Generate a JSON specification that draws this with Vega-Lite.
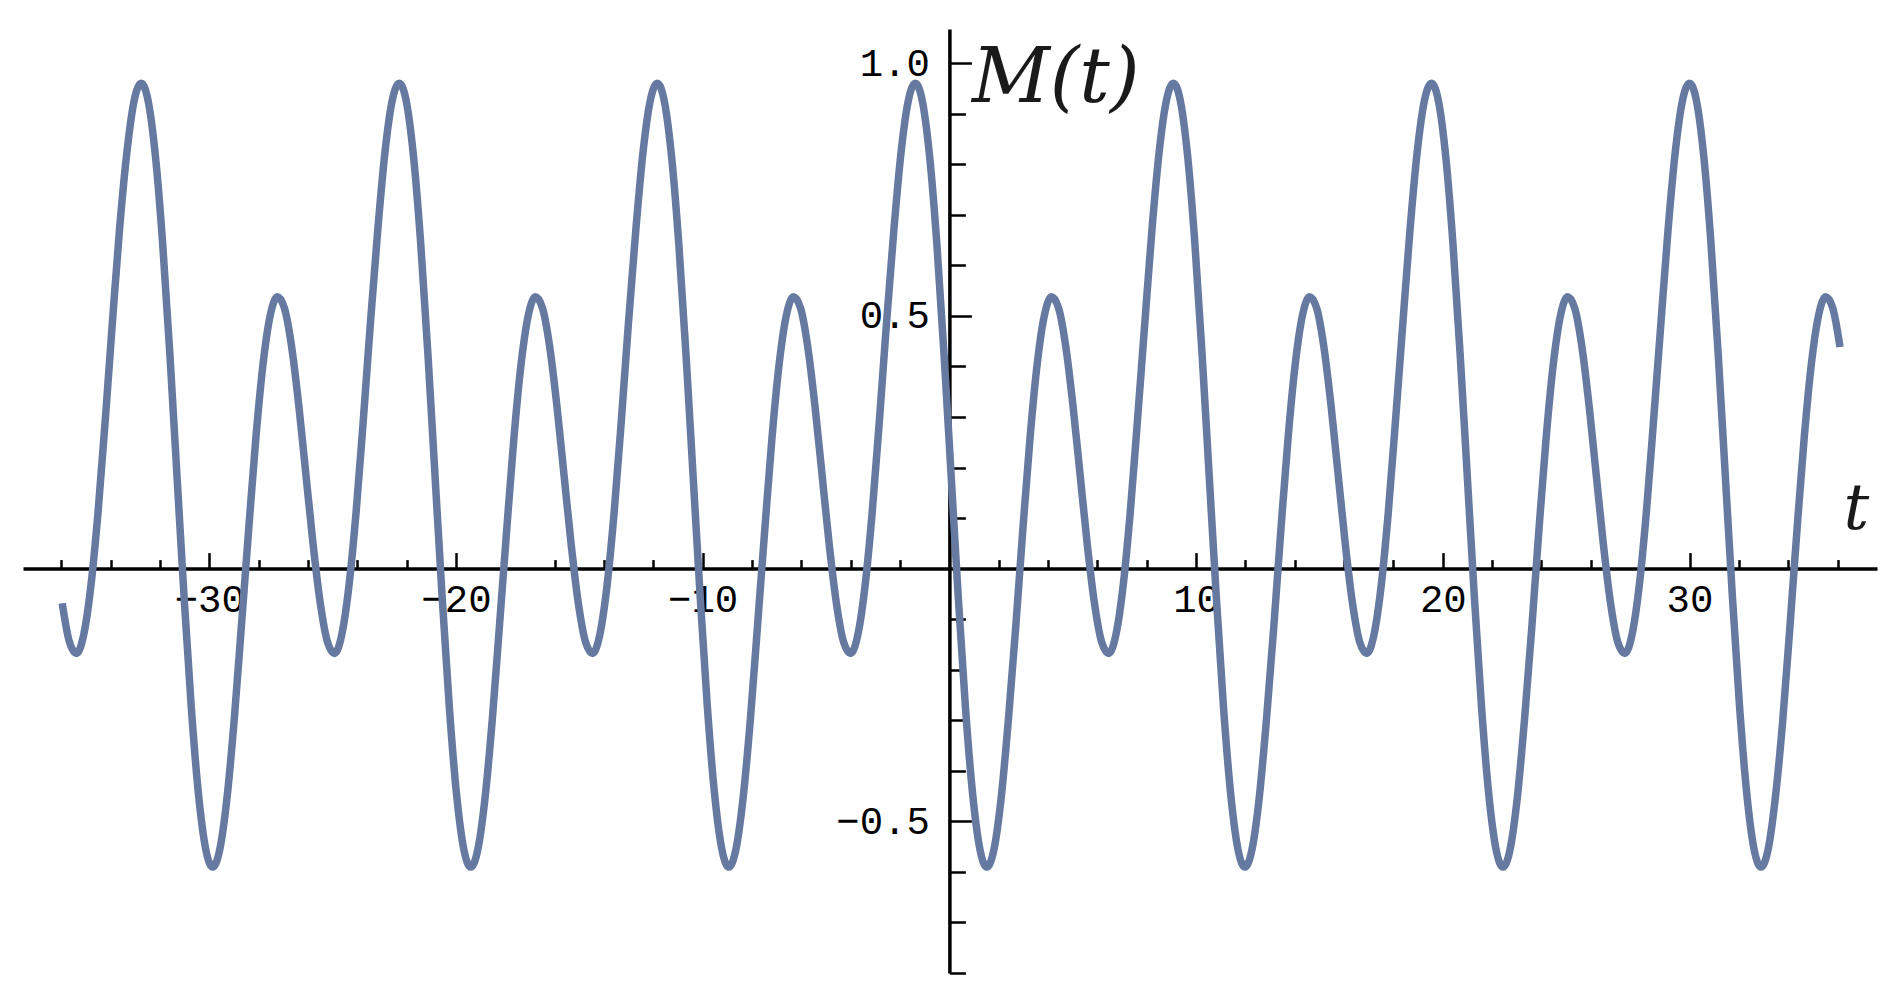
{
  "$schema": "https://vega.github.io/schema/vega-lite/v6.json",
  "width": 1854,
  "height": 944,
  "autosize": {"type": "none"},
  "padding": {"left": 23, "top": 29, "right": 22, "bottom": 24},
  "background": "white",
  "config": {"view": {"stroke": null}},
  "data": {"values": [
    {"t": -35.96, "M": -0.0685}, {"t": -35.67, "M": -0.1448}, {"t": -35.38, "M": -0.1677}, {"t": -35.09, "M": -0.1308},
    {"t": -34.80, "M": -0.0350}, {"t": -34.51, "M": 0.1108}, {"t": -34.22, "M": 0.2910}, {"t": -33.93, "M": 0.485},
    {"t": -33.64, "M": 0.6699}, {"t": -33.34, "M": 0.8230}, {"t": -33.05, "M": 0.9246}, {"t": -32.76, "M": 0.9604},
    {"t": -32.47, "M": 0.9234}, {"t": -32.18, "M": 0.8148}, {"t": -31.89, "M": 0.6437}, {"t": -31.60, "M": 0.4266},
    {"t": -31.31, "M": 0.185}, {"t": -31.02, "M": -0.0566}, {"t": -30.73, "M": -0.2737}, {"t": -30.44, "M": -0.4448},
    {"t": -30.15, "M": -0.5534}, {"t": -29.86, "M": -0.5904}, {"t": -29.57, "M": -0.5546}, {"t": -29.28, "M": -0.4530},
    {"t": -28.99, "M": -0.2999}, {"t": -28.70, "M": -0.115}, {"t": -28.40, "M": 0.0790}, {"t": -28.11, "M": 0.2592},
    {"t": -27.82, "M": 0.4050}, {"t": -27.53, "M": 0.5008}, {"t": -27.24, "M": 0.5377}, {"t": -26.95, "M": 0.5148},
    {"t": -26.66, "M": 0.4385}, {"t": -26.37, "M": 0.3224}, {"t": -26.08, "M": 0.185}, {"t": -25.79, "M": 0.0476},
    {"t": -25.50, "M": -0.0685}, {"t": -25.21, "M": -0.1448}, {"t": -24.92, "M": -0.1677}, {"t": -24.63, "M": -0.1308},
    {"t": -24.34, "M": -0.0350}, {"t": -24.05, "M": 0.1108}, {"t": -23.76, "M": 0.2910}, {"t": -23.47, "M": 0.485},
    {"t": -23.17, "M": 0.6699}, {"t": -22.88, "M": 0.8230}, {"t": -22.59, "M": 0.9246}, {"t": -22.30, "M": 0.9604},
    {"t": -22.01, "M": 0.9234}, {"t": -21.72, "M": 0.8148}, {"t": -21.43, "M": 0.6437}, {"t": -21.14, "M": 0.4266},
    {"t": -20.85, "M": 0.185}, {"t": -20.56, "M": -0.0566}, {"t": -20.27, "M": -0.2737}, {"t": -19.98, "M": -0.4448},
    {"t": -19.69, "M": -0.5534}, {"t": -19.40, "M": -0.5904}, {"t": -19.11, "M": -0.5546}, {"t": -18.82, "M": -0.4530},
    {"t": -18.53, "M": -0.2999}, {"t": -18.24, "M": -0.115}, {"t": -17.94, "M": 0.0790}, {"t": -17.65, "M": 0.2592},
    {"t": -17.36, "M": 0.4050}, {"t": -17.07, "M": 0.5008}, {"t": -16.78, "M": 0.5377}, {"t": -16.49, "M": 0.5148},
    {"t": -16.20, "M": 0.4385}, {"t": -15.91, "M": 0.3224}, {"t": -15.62, "M": 0.185}, {"t": -15.33, "M": 0.0476},
    {"t": -15.04, "M": -0.0685}, {"t": -14.75, "M": -0.1448}, {"t": -14.46, "M": -0.1677}, {"t": -14.17, "M": -0.1308},
    {"t": -13.88, "M": -0.0350}, {"t": -13.59, "M": 0.1108}, {"t": -13.30, "M": 0.2910}, {"t": -13.01, "M": 0.485},
    {"t": -12.71, "M": 0.6699}, {"t": -12.42, "M": 0.8230}, {"t": -12.13, "M": 0.9246}, {"t": -11.84, "M": 0.9604},
    {"t": -11.55, "M": 0.9234}, {"t": -11.26, "M": 0.8148}, {"t": -10.97, "M": 0.6437}, {"t": -10.68, "M": 0.4266},
    {"t": -10.39, "M": 0.185}, {"t": -10.10, "M": -0.0566}, {"t": -9.81, "M": -0.2737}, {"t": -9.52, "M": -0.4448},
    {"t": -9.23, "M": -0.5534}, {"t": -8.94, "M": -0.5904}, {"t": -8.65, "M": -0.5546}, {"t": -8.36, "M": -0.4530},
    {"t": -8.07, "M": -0.2999}, {"t": -7.78, "M": -0.115}, {"t": -7.48, "M": 0.0790}, {"t": -7.19, "M": 0.2592},
    {"t": -6.90, "M": 0.4050}, {"t": -6.61, "M": 0.5008}, {"t": -6.32, "M": 0.5377}, {"t": -6.03, "M": 0.5148},
    {"t": -5.74, "M": 0.4385}, {"t": -5.45, "M": 0.3224}, {"t": -5.16, "M": 0.185}, {"t": -4.87, "M": 0.0476},
    {"t": -4.58, "M": -0.0685}, {"t": -4.29, "M": -0.1448}, {"t": -4.00, "M": -0.1677}, {"t": -3.71, "M": -0.1308},
    {"t": -3.42, "M": -0.0350}, {"t": -3.13, "M": 0.1108}, {"t": -2.84, "M": 0.2910}, {"t": -2.55, "M": 0.485},
    {"t": -2.25, "M": 0.6699}, {"t": -1.96, "M": 0.8230}, {"t": -1.67, "M": 0.9246}, {"t": -1.38, "M": 0.9604},
    {"t": -1.09, "M": 0.9234}, {"t": -0.80, "M": 0.8148}, {"t": -0.51, "M": 0.6437}, {"t": -0.22, "M": 0.4266},
    {"t": 0.07, "M": 0.185}, {"t": 0.36, "M": -0.0566}, {"t": 0.65, "M": -0.2737}, {"t": 0.94, "M": -0.4448},
    {"t": 1.23, "M": -0.5534}, {"t": 1.52, "M": -0.5904}, {"t": 1.81, "M": -0.5546}, {"t": 2.10, "M": -0.4530},
    {"t": 2.39, "M": -0.2999}, {"t": 2.69, "M": -0.115}, {"t": 2.98, "M": 0.0790}, {"t": 3.27, "M": 0.2592},
    {"t": 3.56, "M": 0.4050}, {"t": 3.85, "M": 0.5008}, {"t": 4.14, "M": 0.5377}, {"t": 4.43, "M": 0.5148},
    {"t": 4.72, "M": 0.4385}, {"t": 5.01, "M": 0.3224}, {"t": 5.30, "M": 0.185}, {"t": 5.59, "M": 0.0476},
    {"t": 5.88, "M": -0.0685}, {"t": 6.17, "M": -0.1448}, {"t": 6.46, "M": -0.1677}, {"t": 6.75, "M": -0.1308},
    {"t": 7.04, "M": -0.0350}, {"t": 7.33, "M": 0.1108}, {"t": 7.62, "M": 0.2910}, {"t": 7.92, "M": 0.485},
    {"t": 8.21, "M": 0.6699}, {"t": 8.50, "M": 0.8230}, {"t": 8.79, "M": 0.9246}, {"t": 9.08, "M": 0.9604},
    {"t": 9.37, "M": 0.9234}, {"t": 9.66, "M": 0.8148}, {"t": 9.95, "M": 0.6437}, {"t": 10.24, "M": 0.4266},
    {"t": 10.53, "M": 0.185}, {"t": 10.82, "M": -0.0566}, {"t": 11.11, "M": -0.2737}, {"t": 11.40, "M": -0.4448},
    {"t": 11.69, "M": -0.5534}, {"t": 11.98, "M": -0.5904}, {"t": 12.27, "M": -0.5546}, {"t": 12.56, "M": -0.4530},
    {"t": 12.85, "M": -0.2999}, {"t": 13.15, "M": -0.115}, {"t": 13.44, "M": 0.0790}, {"t": 13.73, "M": 0.2592},
    {"t": 14.02, "M": 0.4050}, {"t": 14.31, "M": 0.5008}, {"t": 14.60, "M": 0.5377}, {"t": 14.89, "M": 0.5148},
    {"t": 15.18, "M": 0.4385}, {"t": 15.47, "M": 0.3224}, {"t": 15.76, "M": 0.185}, {"t": 16.05, "M": 0.0476},
    {"t": 16.34, "M": -0.0685}, {"t": 16.63, "M": -0.1448}, {"t": 16.92, "M": -0.1677}, {"t": 17.21, "M": -0.1308},
    {"t": 17.50, "M": -0.0350}, {"t": 17.79, "M": 0.1108}, {"t": 18.08, "M": 0.2910}, {"t": 18.38, "M": 0.485},
    {"t": 18.67, "M": 0.6699}, {"t": 18.96, "M": 0.8230}, {"t": 19.25, "M": 0.9246}, {"t": 19.54, "M": 0.9604},
    {"t": 19.83, "M": 0.9234}, {"t": 20.12, "M": 0.8148}, {"t": 20.41, "M": 0.6437}, {"t": 20.70, "M": 0.4266},
    {"t": 20.99, "M": 0.185}, {"t": 21.28, "M": -0.0566}, {"t": 21.57, "M": -0.2737}, {"t": 21.86, "M": -0.4448},
    {"t": 22.15, "M": -0.5534}, {"t": 22.44, "M": -0.5904}, {"t": 22.73, "M": -0.5546}, {"t": 23.02, "M": -0.4530},
    {"t": 23.31, "M": -0.2999}, {"t": 23.61, "M": -0.115}, {"t": 23.90, "M": 0.0790}, {"t": 24.19, "M": 0.2592},
    {"t": 24.48, "M": 0.4050}, {"t": 24.77, "M": 0.5008}, {"t": 25.06, "M": 0.5377}, {"t": 25.35, "M": 0.5148},
    {"t": 25.64, "M": 0.4385}, {"t": 25.93, "M": 0.3224}, {"t": 26.22, "M": 0.185}, {"t": 26.51, "M": 0.0476},
    {"t": 26.80, "M": -0.0685}, {"t": 27.09, "M": -0.1448}, {"t": 27.38, "M": -0.1677}, {"t": 27.67, "M": -0.1308},
    {"t": 27.96, "M": -0.0350}, {"t": 28.25, "M": 0.1108}, {"t": 28.54, "M": 0.2910}, {"t": 28.84, "M": 0.485},
    {"t": 29.13, "M": 0.6699}, {"t": 29.42, "M": 0.8230}, {"t": 29.71, "M": 0.9246}, {"t": 30.00, "M": 0.9604},
    {"t": 30.29, "M": 0.9234}, {"t": 30.58, "M": 0.8148}, {"t": 30.87, "M": 0.6437}, {"t": 31.16, "M": 0.4266},
    {"t": 31.45, "M": 0.185}, {"t": 31.74, "M": -0.0566}, {"t": 32.03, "M": -0.2737}, {"t": 32.32, "M": -0.4448},
    {"t": 32.61, "M": -0.5534}, {"t": 32.90, "M": -0.5904}, {"t": 33.19, "M": -0.5546}, {"t": 33.48, "M": -0.4530},
    {"t": 33.78, "M": -0.2999}, {"t": 34.07, "M": -0.115}, {"t": 34.36, "M": 0.0790}, {"t": 34.65, "M": 0.2592},
    {"t": 34.94, "M": 0.4050}, {"t": 35.23, "M": 0.5008}, {"t": 35.52, "M": 0.5377}, {"t": 35.81, "M": 0.5148},
    {"t": 36.10, "M": 0.4385}
  ]},
  "mark": {"type": "line", "interpolate": "monotone", "color": "#6679a0", "strokeWidth": 7.5, "clip": false},
  "encoding": {
    "x": {
      "field": "t", "type": "quantitative",
      "scale": {"domain": [-37.55, 37.6], "nice": false, "zero": false},
      "axis": {
        "orient": "bottom", "offset": -404.4, "grid": false,
        "values": [-36, -34, -32, -30, -28, -26, -24, -22, -20, -18, -16, -14, -12, -10, -8, -6, -4, -2, 2, 4, 6, 8, 10, 12, 14, 16, 18, 20, 22, 24, 26, 28, 30, 32, 34, 36],
        "format": "d",
        "labelExpr": "datum.value % 10 === 0 ? datum.label : ''",
        "domainColor": "black", "domainWidth": 3.5,
        "tickColor": "black", "tickWidth": 2.5,
        "tickSize": {"condition": {"test": "datum.value % 10 === 0", "value": -16}, "value": -9},
        "labelFont": "Liberation Mono", "labelFontSize": 39, "labelColor": "black",
        "labelPadding": 28, "labelFlush": false, "labelOverlap": false,
        "title": "t", "titleFont": "DejaVu Serif", "titleFontStyle": "italic", "titleFontWeight": "normal",
        "titleFontSize": 64, "titleColor": "#1a1a1a",
        "titleX": 1820, "titleY": -40, "titleAlign": "left", "titleBaseline": "alphabetic", "titleAngle": 0
      }
    },
    "y": {
      "field": "M", "type": "quantitative",
      "scale": {"domain": [-0.8, 1.0675], "nice": false, "zero": false},
      "axis": {
        "orient": "left", "offset": -926.4, "grid": false,
        "values": [-0.8, -0.7, -0.6, -0.5, -0.4, -0.3, -0.2, -0.1, 0.1, 0.2, 0.3, 0.4, 0.5, 0.6, 0.7, 0.8, 0.9, 1.0],
        "format": ".1f",
        "labelExpr": "datum.value === 1 || datum.value === 0.5 || datum.value === -0.5 ? datum.label : ''",
        "domainColor": "black", "domainWidth": 3.5,
        "tickColor": "black", "tickWidth": 2.5,
        "tickSize": {"condition": {"test": "datum.value === 1 || datum.value === 0.5 || datum.value === -0.5", "value": -22}, "value": -16},
        "labelFont": "Liberation Mono", "labelFontSize": 39, "labelColor": "black",
        "labelPadding": 42, "labelFlush": false, "labelOverlap": false,
        "title": "M(t)", "titleFont": "DejaVu Serif", "titleFontStyle": "italic", "titleFontWeight": "normal",
        "titleFontSize": 76, "titleColor": "#1a1a1a",
        "titleX": 22, "titleY": 72, "titleAlign": "left", "titleBaseline": "alphabetic", "titleAngle": 0
      }
    }
  }
}
